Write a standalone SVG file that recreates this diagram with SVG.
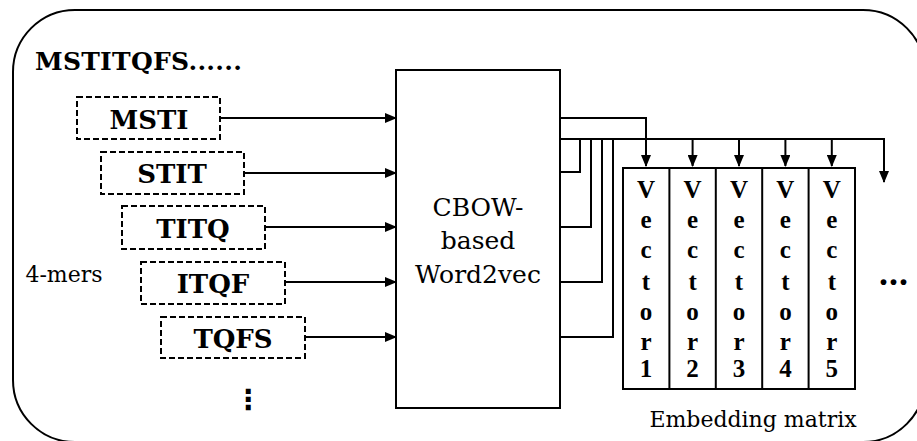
<svg xmlns="http://www.w3.org/2000/svg" width="917" height="441" viewBox="0 0 917 441">
<style>
.ln{fill:none;stroke:#000;stroke-width:2}
.arr{fill:none;stroke:#000;stroke-width:2;marker-end:url(#ah)}
.dash{fill:#fff;stroke:#000;stroke-width:2;stroke-dasharray:6 3}
.kb{font-family:"DejaVu Serif",serif;font-weight:bold;font-size:26px;text-anchor:middle}
.reg{font-family:"DejaVu Serif",serif;font-size:25px;text-anchor:middle}
.vec{font-family:"Liberation Serif",serif;font-weight:bold;font-size:25px;text-anchor:middle}
</style>
<defs>
<marker id="ah" markerUnits="userSpaceOnUse" markerWidth="12" markerHeight="10" refX="11" refY="5" orient="auto">
<path d="M0,0 L12,5 L0,10 z" fill="#000"/>
</marker>
</defs>
<rect width="917" height="441" fill="#fff"/>
<rect id="frame" x="13" y="10" width="912" height="432" rx="62" ry="62" class="ln"/>
<text x="35" y="70" font-family="DejaVu Serif, serif" font-weight="bold" font-size="25" textLength="207">MSTITQFS......</text>
<text x="64" y="282" font-family="DejaVu Serif, serif" font-size="22" text-anchor="middle">4-mers</text>
<text x="248" y="409" font-family="DejaVu Sans, sans-serif" font-weight="bold" font-size="28" text-anchor="middle">⋮</text>

<g id="kmer1"><rect x="77" y="97" width="143" height="42" class="dash"/><text x="149" y="129" class="kb">MSTI</text></g>
<g id="kmer2"><rect x="101" y="152" width="143" height="42" class="dash"/><text x="172" y="183" class="kb">STIT</text></g>
<g id="kmer3"><rect x="122" y="206" width="143" height="43" class="dash"/><text x="193" y="238" class="kb">TITQ</text></g>
<g id="kmer4"><rect x="141" y="262" width="144" height="42" class="dash"/><text x="213" y="293" class="kb">ITQF</text></g>
<g id="kmer5"><rect x="161" y="317" width="144" height="41" class="dash"/><text x="233" y="348" class="kb">TQFS</text></g>

<g id="cbow">
<rect x="396" y="70" width="164" height="338" class="ln" fill="#fff"/>
<text x="478" y="216" class="reg">CBOW-</text>
<text x="478" y="249" class="reg">based</text>
<text x="478" y="283" class="reg">Word2vec</text>
</g>

<g id="matrix">
<rect x="623" y="168" width="232" height="221" class="ln"/>
<path d="M669.4,168V389M715.8,168V389M762.2,168V389M808.6,168V389" class="ln"/>
<g class="vec">
<text x="646" y="198">V</text><text x="646" y="228">e</text><text x="646" y="258">c</text><text x="646" y="290">t</text><text x="646" y="320">o</text><text x="646" y="350">r</text><text x="646" y="377">1</text>
<text x="692.6" y="198">V</text><text x="692.6" y="228">e</text><text x="692.6" y="258">c</text><text x="692.6" y="290">t</text><text x="692.6" y="320">o</text><text x="692.6" y="350">r</text><text x="692.6" y="377">2</text>
<text x="739" y="198">V</text><text x="739" y="228">e</text><text x="739" y="258">c</text><text x="739" y="290">t</text><text x="739" y="320">o</text><text x="739" y="350">r</text><text x="739" y="377">3</text>
<text x="785.4" y="198">V</text><text x="785.4" y="228">e</text><text x="785.4" y="258">c</text><text x="785.4" y="290">t</text><text x="785.4" y="320">o</text><text x="785.4" y="350">r</text><text x="785.4" y="377">4</text>
<text x="831.8" y="198">V</text><text x="831.8" y="228">e</text><text x="831.8" y="258">c</text><text x="831.8" y="290">t</text><text x="831.8" y="320">o</text><text x="831.8" y="350">r</text><text x="831.8" y="377">5</text>
</g>
<text x="753" y="427" font-family="DejaVu Serif, serif" font-size="22" text-anchor="middle">Embedding matrix</text>
</g>
<text x="894" y="285" font-family="Liberation Serif, serif" font-weight="bold" font-size="36" text-anchor="middle" letter-spacing="1">...</text>

<g id="connectors">
<path d="M220,118H396" class="arr"/>
<path d="M244,173H396" class="arr"/>
<path d="M265,227H396" class="arr"/>
<path d="M285,282H396" class="arr"/>
<path d="M305,337H396" class="arr"/>
<path d="M560,118H646V166" class="arr"/>
<path d="M560,139H884V182" class="arr"/>
<path d="M692.6,139V166" class="arr"/>
<path d="M739,139V166" class="arr"/>
<path d="M785.4,139V166" class="arr"/>
<path d="M831.8,139V166" class="arr"/>
<path d="M560,172H580V139" class="ln"/>
<path d="M560,227H591V139" class="ln"/>
<path d="M560,282H602V139" class="ln"/>
<path d="M560,337H613V139" class="ln"/>
</g>
</svg>
